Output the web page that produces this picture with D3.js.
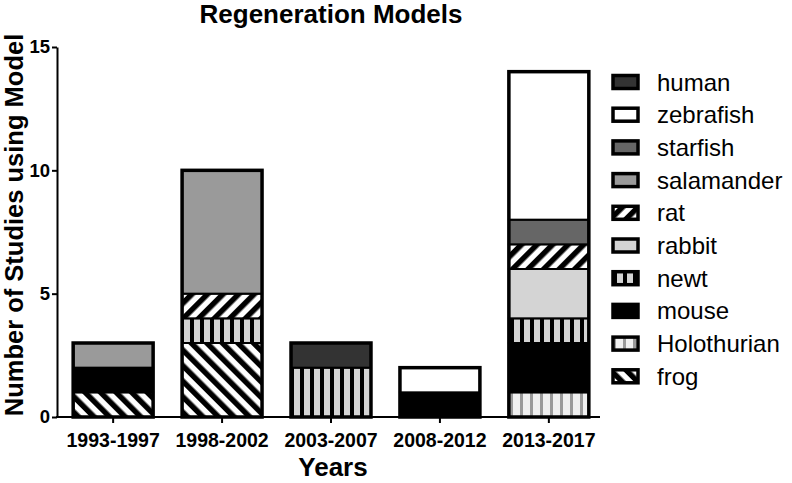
<!DOCTYPE html>
<html><head><meta charset="utf-8">
<script src="https://cdn.jsdelivr.net/npm/d3@7"></script>
<style>body{margin:0;background:#fff}svg{display:block;font-family:"Liberation Sans",Arial,sans-serif}</style>
</head><body><svg id="c" width="792" height="483"></svg>
<script>
const years = ["1993-1997","1998-2002","2003-2007","2008-2012","2013-2017"];
const models = ["frog","Holothurian","mouse","newt","rabbit","rat","salamander","starfish","zebrafish","human"];
const frog        = [1,3,0,0,0];
const Holothurian = [0,0,0,0,1];
const mouse       = [1,0,0,1,2];
const newt        = [0,1,2,0,1];
const rabbit      = [0,0,0,0,2];
const rat         = [0,1,0,0,1];
const salamander  = [1,5,0,0,0];
const starfish    = [0,0,0,0,1];
const zebrafish   = [0,0,0,1,6];
const human       = [0,0,1,0,0];
const yTicks = [0,5,10,15];
const series = {frog,Holothurian,mouse,newt,rabbit,rat,salamander,starfish,zebrafish,human};

const FONT = "Liberation Sans, Arial, sans-serif";
const svg = d3.select("#c");
const defs = svg.append("defs");
function stripePat(id, bg, fg, w, period, angle){
  const p = defs.append("pattern").attr("id",id).attr("patternUnits","userSpaceOnUse")
    .attr("width",period).attr("height",period).attr("patternTransform",`rotate(${angle})`);
  p.append("rect").attr("width",period).attr("height",period).attr("fill",bg);
  p.append("rect").attr("x",0).attr("width",w).attr("height",period).attr("fill",fg);
}
stripePat("pfrog","#fff","#000",5.5,11,-45);
stripePat("prat","#fff","#000",5.5,11,45);
stripePat("pnewt","#d4d4d4","#000",4,10,0);
stripePat("pholo","#f0f0f0","#9a9a9a",3,10,0);

const fills = {human:"#333333",zebrafish:"#ffffff",starfish:"#666666",salamander:"#9a9a9a",
  rat:"url(#prat)",rabbit:"#d4d4d4",newt:"url(#pnewt)",mouse:"#000000",Holothurian:"url(#pholo)",frog:"url(#pfrog)"};

const x = d3.scaleBand().domain(years).range([59,603]).paddingInner(0.266).paddingOuter(0.13);
const y = d3.scaleLinear().domain([0,15]).range([417,47]);

const stackData = years.map((yr,i)=>{const o={year:yr}; models.forEach(m=>o[m]=series[m][i]); return o;});
const stack = d3.stack().keys(models)(stackData);

const g = svg.append("g");
stack.forEach(layer=>{
  g.selectAll(null).data(layer.filter(d=>d[1]>d[0])).enter().append("rect")
    .attr("x",d=>x(d.data.year)).attr("width",x.bandwidth())
    .attr("y",d=>y(d[1])).attr("height",d=>y(d[0])-y(d[1]))
    .attr("fill",fills[layer.key]).attr("stroke","#000").attr("stroke-width",2);
});
g.selectAll(null).data(stackData).enter().append("rect")
  .attr("x",d=>x(d.year)).attr("width",x.bandwidth())
  .attr("y",d=>y(d3.sum(models,m=>d[m]))).attr("height",d=>y(0)-y(d3.sum(models,m=>d[m])))
  .attr("fill","none").attr("stroke","#000").attr("stroke-width",3.5);

const ya = svg.append("g").attr("transform","translate(57,0)")
  .call(d3.axisLeft(y).tickValues(yTicks).tickSize(5).tickPadding(2).tickSizeOuter(0));
ya.select(".domain").attr("stroke-width",2);
ya.selectAll(".tick line").attr("stroke-width",2);
ya.selectAll("text").attr("font-size",18.5).attr("font-weight","bold").attr("font-family",FONT).attr("fill","#000");

const xa = svg.append("g").attr("transform","translate(0,417)")
  .call(d3.axisBottom(x).tickSize(6).tickPadding(10).tickSizeOuter(0));
xa.select(".domain").attr("stroke-width",2).attr("d","M56,0H600");
xa.selectAll(".tick line").attr("stroke-width",2);
xa.selectAll("text").attr("font-size",19.5).attr("font-weight","bold").attr("font-family",FONT).attr("fill","#000");

svg.append("text").attr("x",331).attr("y",23).attr("text-anchor","middle")
  .attr("font-size",26).attr("font-weight","bold").text("Regeneration Models");
svg.append("text").attr("x",333).attr("y",476).attr("text-anchor","middle")
  .attr("font-size",26).attr("font-weight","bold").text("Years");
svg.append("text").attr("transform","translate(23,225) rotate(-90)").attr("text-anchor","middle")
  .attr("font-size",25.5).attr("font-weight","bold").text("Number of Studies using Model");

const legOrder = models.slice().reverse();
const li = svg.append("g").selectAll(null).data(legOrder).enter().append("g")
  .attr("transform",(d,i)=>`translate(613,${82 + i*32.7})`);
li.append("rect").attr("x",0).attr("y",-6.5).attr("width",25).attr("height",13)
  .attr("fill",d=>fills[d]).attr("stroke","#000").attr("stroke-width",3.5);
li.append("text").attr("x",44).attr("y",8.5).attr("font-size",24).text(d=>d);
</script></body></html>
